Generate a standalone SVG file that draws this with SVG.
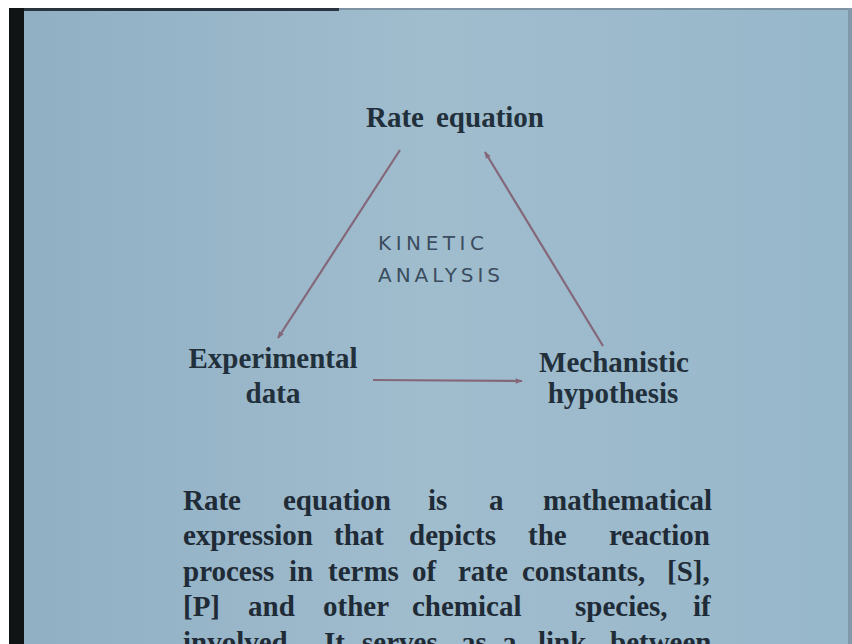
<svg xmlns="http://www.w3.org/2000/svg" width="852" height="644" viewBox="0 0 852 644">
  <defs>
    <linearGradient id="bg" x1="0" y1="0" x2="1" y2="0">
      <stop offset="0" stop-color="#90afc3"/>
      <stop offset="0.5" stop-color="#a0bdce"/>
      <stop offset="1" stop-color="#97b7ca"/>
    </linearGradient>
    <marker id="ah" viewBox="0 0 10 10" refX="9" refY="5" markerWidth="10" markerHeight="7" orient="auto" markerUnits="userSpaceOnUse">
      <path d="M0,1 L10,5 L0,9 Z" fill="#85677a"/>
    </marker>
    <style>
      .node { font-family: "Liberation Serif", "Times New Roman", serif; font-weight: bold; fill: #22303c; font-size: 29px; }
      .hand { font-family: "DejaVu Sans", "Liberation Sans", sans-serif; fill: #3b4d5e; font-size: 20px; }
      .body { font-family: "Liberation Serif", "Times New Roman", serif; font-weight: bold; fill: #1f2b36; font-size: 29px; }
      .conn { stroke: #85677a; stroke-width: 2.2; fill: none; }
    </style>
  </defs>
  <rect width="852" height="644" fill="#ffffff"/>
  <rect x="9" y="8" width="843" height="636" fill="url(#bg)"/>
  <rect x="9" y="8" width="330" height="3" fill="#2a3440"/>
  <rect x="339" y="8" width="513" height="2" fill="#7d93a3"/>
  <rect x="9" y="8" width="15" height="636" fill="#101414"/>
  <rect x="848" y="8" width="4" height="636" fill="#7f98aa"/>

  <g id="rate-equation">
    <text class="node" y="127"><tspan x="366">Rate</tspan><tspan x="436">equation</tspan></text>
  </g>
  <g id="experimental-data">
    <text class="node" x="273" y="368" text-anchor="middle">Experimental</text>
    <text class="node" x="273" y="403" text-anchor="middle">data</text>
  </g>
  <g id="mechanistic-hypothesis">
    <text class="node" x="614" y="372" text-anchor="middle">Mechanistic</text>
    <text class="node" x="613" y="403" text-anchor="middle">hypothesis</text>
  </g>
  <g id="kinetic-analysis">
    <text class="hand" x="378" y="250" textLength="106" lengthAdjust="spacing">KINETIC</text>
    <text class="hand" x="378" y="282" textLength="122" lengthAdjust="spacing">ANALYSIS</text>
  </g>

  <g id="connectors">
    <line class="conn" x1="400" y1="150" x2="278" y2="338" marker-end="url(#ah)"/>
    <line class="conn" x1="603" y1="346" x2="485" y2="152" marker-end="url(#ah)"/>
    <line class="conn" x1="373" y1="380" x2="522" y2="381" marker-end="url(#ah)"/>
  </g>

  <g id="description">
    <text class="body" y="510"><tspan x="183">Rate</tspan><tspan x="283">equation</tspan><tspan x="428">is</tspan><tspan x="489">a</tspan><tspan x="543">mathematical</tspan></text>
    <text class="body" y="545"><tspan x="183">expression</tspan><tspan x="334">that</tspan><tspan x="409">depicts</tspan><tspan x="528">the</tspan><tspan x="609">reaction</tspan></text>
    <text class="body" y="581"><tspan x="183">process</tspan><tspan x="289">in</tspan><tspan x="328">terms</tspan><tspan x="412">of</tspan><tspan x="458">rate</tspan><tspan x="522">constants,</tspan><tspan x="667">[S],</tspan></text>
    <text class="body" y="616"><tspan x="183">[P]</tspan><tspan x="248">and</tspan><tspan x="323">other</tspan><tspan x="412">chemical</tspan><tspan x="575">species,</tspan><tspan x="693">if</tspan></text>
    <text class="body" y="652"><tspan x="183">involved.</tspan><tspan x="324">It</tspan><tspan x="362">serves</tspan><tspan x="461">as</tspan><tspan x="502">a</tspan><tspan x="538">link</tspan><tspan x="610">between</tspan></text>
  </g>
</svg>
